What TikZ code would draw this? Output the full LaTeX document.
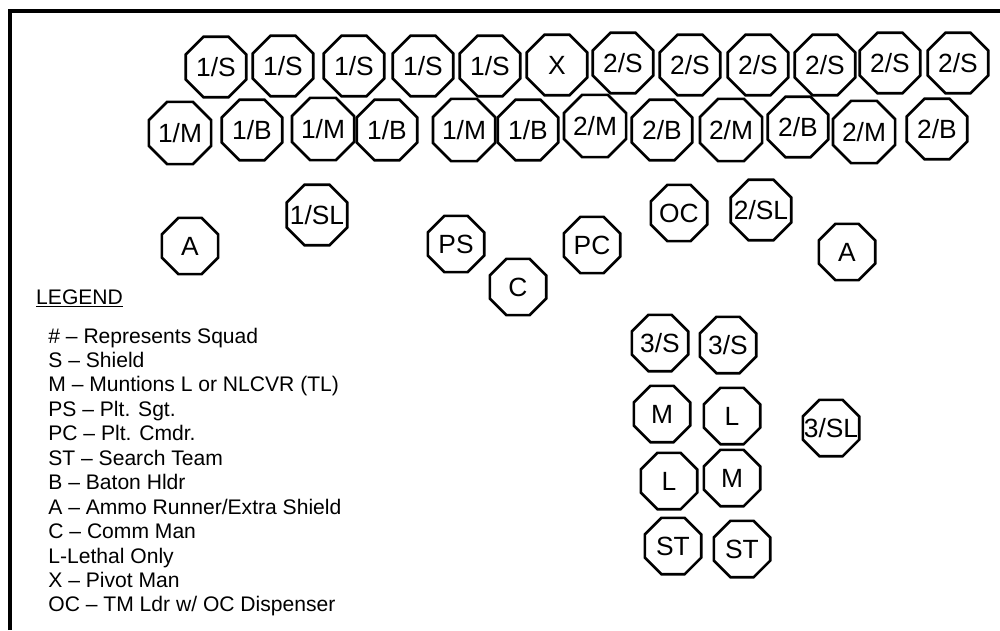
\documentclass[tikz,border=0pt]{standalone}
\usepackage{fontspec}
\setmainfont{Liberation Sans}
\usetikzlibrary{shapes.geometric}

\tikzset{
  troop/.style={regular polygon, regular polygon sides=8, draw, line width=1.5pt,
    minimum size=13.1mm, inner sep=0pt, font=\fontsize{15}{18}\selectfont},
  solo/.style={troop, minimum size=12.2mm},
}

\begin{document}
\begin{tikzpicture}[x=0.2mm,y=-0.2mm]
\useasboundingbox (0,0) rectangle (1000,630);
\draw[line width=2.3pt] (10,630) -- (10,11) -- (1000,11);
% front rank
\foreach \sq/\role/\x/\y [count=\i] in {1/S/216/67,1/S/283/66,1/S/354/66,1/S/423/66,1/S/490/66,
    2/S/623/63,2/S/690/65,2/S/758/65,2/S/825/65,2/S/890/63,2/S/958/63}
  \node[troop] (fr\i) at (\x,\y) {\sq/\role};
\node[troop] (pivot) at (557,65) {X};
% second rank
\foreach \sq/\role/\x/\y [count=\i] in {1/M/180/133,1/B/252/130,1/M/323/129,1/B/387/130,1/M/464/130,1/B/528/130,
    2/M/595/126,2/B/662/130,2/M/731/130,2/B/798/127,2/M/864/132,2/B/937/129}
  \node[troop] (sr\i) at (\x,\y) {\sq/\role};
% leaders
\node[solo] (ammo1) at (190,246) {A};
\node[troop] (sl1) at (317,215) {\makebox[0pt]{1/SL}};
\node[solo] (ps) at (456,244) {PS};
\node[solo] (comm) at (518,287) {C};
\node[solo] (pc) at (592,245) {PC};
\node[solo] (oc) at (679,213) {OC};
\node[troop] (sl2) at (761,210) {\makebox[0pt]{2/SL}};
\node[solo] (ammo2) at (847,252) {A};
% third squad
\node[solo] (s3a) at (660,343) {3/S};
\node[solo] (s3b) at (728,345) {3/S};
\node[solo] (m3a) at (662,414) {M};
\node[solo] (l3a) at (732,416) {L};
\node[solo] (sl3) at (831,428) {\makebox[0pt]{3/SL}};
\node[solo] (l3b) at (669,481) {L};
\node[solo] (m3b) at (732,478) {M};
\node[solo] (st1) at (673,546) {ST};
\node[solo] (st2) at (742,549) {ST};
% legend
\node[anchor=base west, font=\fontsize{12}{14}\selectfont] (legend) at (30,304) {\underline{LEGEND}};
\foreach \t [count=\i from 0] in {\# – Represents Squad, S – Shield, M – Muntions L or NLCVR (TL),
    PS – Plt. Sgt., PC – Plt. Cmdr., ST – Search Team, B – Baton Hldr,
    A – Ammo Runner/Extra Shield, C – Comm Man, L-Lethal Only, X – Pivot Man,
    OC – TM Ldr w/ OC Dispenser}
  \node[anchor=base west, font=\fontsize{12}{14}\selectfont, inner sep=0pt] (leg\i) at (48,{343+24.45*\i}) {\t};
\end{tikzpicture}
\end{document}
